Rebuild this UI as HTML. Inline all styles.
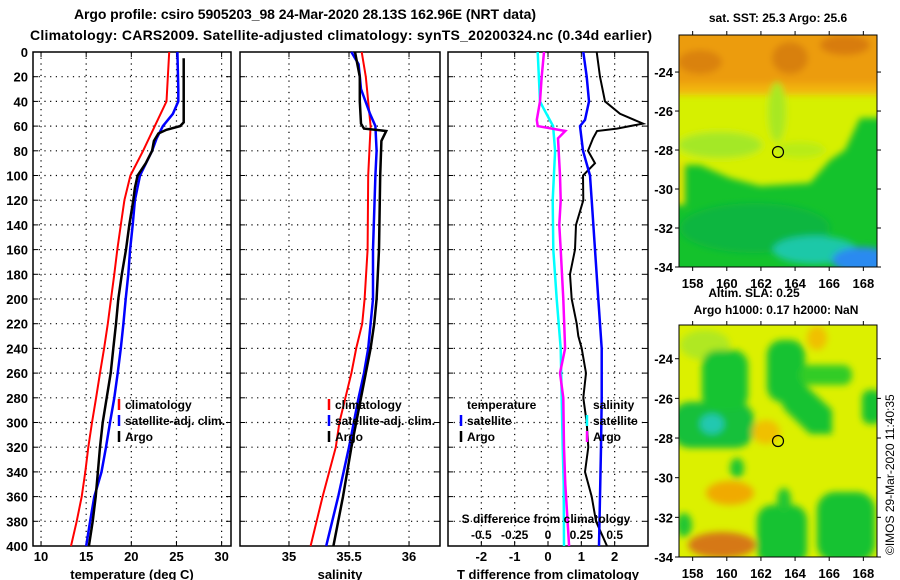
<!DOCTYPE html>
<html><head><meta charset="utf-8"><style>
html,body{margin:0;padding:0;background:#fff;}
svg{display:block;font-family:"Liberation Sans",Arial,sans-serif;font-weight:bold;}
</style></head><body>
<svg id="root" width="900" height="580" viewBox="0 0 900 580">
<defs>
<filter id="bl" x="-30%" y="-30%" width="160%" height="160%"><feGaussianBlur stdDeviation="3.5"/></filter>
<clipPath id="c1"><rect x="679" y="35" width="198" height="232"/></clipPath>
<clipPath id="c2"><rect x="679" y="325" width="198" height="232"/></clipPath>
</defs>
<text x="305" y="19" text-anchor="middle" font-size="14" textLength="462">Argo profile: csiro 5905203_98 24-Mar-2020 28.13S 162.96E (NRT data)</text>
<text x="341" y="40" text-anchor="middle" font-size="14" textLength="622">Climatology: CARS2009. Satellite-adjusted climatology: synTS_20200324.nc (0.34d earlier)</text>

<!-- SST map -->
<g>
<text x="778" y="22" text-anchor="middle" font-size="12">sat. SST: 25.3 Argo: 25.6</text>
<g clip-path="url(#c1)">
<rect x="679" y="35" width="198" height="232" fill="#14c22c"/>
<g filter="url(#bl)">
<rect x="660" y="20" width="240" height="80" fill="#ec9c0e"/>
<ellipse cx="700" cy="62" rx="22" ry="12" fill="#da820a"/>
<ellipse cx="790" cy="58" rx="18" ry="16" fill="#d8800a"/>
<ellipse cx="845" cy="45" rx="25" ry="10" fill="#d87c08"/>
<rect x="660" y="84" width="240" height="16" fill="#f2b40a"/>
<polygon points="660,95 900,95 900,118 860,118 845,150 830,160 810,183 760,186 730,178 700,165 685,165 660,165" fill="#d6f000"/>
<ellipse cx="720" cy="145" rx="42" ry="13" fill="#a4e828"/>
<ellipse cx="777" cy="112" rx="9" ry="30" fill="#a8e820"/>
<ellipse cx="800" cy="150" rx="25" ry="8" fill="#b8ec18"/>
<rect x="675" y="160" width="10" height="45" fill="#e8e400"/>
<ellipse cx="755" cy="228" rx="75" ry="25" fill="#0cb640"/>
<ellipse cx="815" cy="250" rx="42" ry="14" fill="#1cc8a8"/>
<ellipse cx="862" cy="260" rx="30" ry="13" fill="#2a8af0"/>
</g></g>
<rect x="679" y="35" width="198" height="232" fill="none" stroke="#000" stroke-width="1"/>
<circle cx="778" cy="152" r="5.5" fill="none" stroke="#000" stroke-width="1.2"/>
</g>

<!-- SLA map -->
<g>
<text x="754" y="297" text-anchor="middle" font-size="12">Altim. SLA: 0.25</text>
<text x="776" y="314" text-anchor="middle" font-size="12">Argo h1000: 0.17 h2000: NaN</text>
<g clip-path="url(#c2)">
<rect x="679" y="325" width="198" height="232" fill="#dcf000"/>
<g filter="url(#bl)">
<ellipse cx="705" cy="345" rx="25" ry="15" fill="#b0e820"/>
<rect x="672" y="402" width="82" height="46" rx="18" fill="#14c03a"/>
<rect x="702" y="350" width="46" height="60" rx="15" fill="#18c430"/>
<ellipse cx="712" cy="424" rx="12" ry="10" fill="#22c8b0"/>
<rect x="767" y="340" width="38" height="62" rx="15" fill="#14c230"/>
<polygon points="775,390 805,385 832,410 832,434 810,434 785,410" fill="#14c230"/>
<rect x="800" y="365" width="52" height="20" rx="9" fill="#30cc28"/>
<rect x="862" y="390" width="20" height="34" rx="8" fill="#14c230"/>
<ellipse cx="737" cy="468" rx="7" ry="10" fill="#1cc630"/>
<rect x="757" y="505" width="50" height="60" rx="15" fill="#14c230"/>
<ellipse cx="784" cy="500" rx="7" ry="12" fill="#20c630"/>
<rect x="817" y="492" width="58" height="70" rx="18" fill="#14c230"/>
<ellipse cx="684" cy="525" rx="8" ry="12" fill="#20c630"/>
<ellipse cx="730" cy="493" rx="24" ry="12" fill="#f0aa00"/>
<ellipse cx="722" cy="545" rx="34" ry="13" fill="#d67812"/>
<ellipse cx="766" cy="432" rx="14" ry="12" fill="#f0c000"/>
<ellipse cx="817" cy="338" rx="10" ry="12" fill="#f0c000"/>
</g></g>
<rect x="679" y="325" width="198" height="232" fill="none" stroke="#000" stroke-width="1"/>
<circle cx="778" cy="441" r="5.5" fill="none" stroke="#000" stroke-width="1.2"/>
</g>
<text transform="translate(894,555) rotate(-90)" font-size="12" font-weight="normal">©IMOS 29-Mar-2020 11:40:35</text>
<g id="dyn"></g>
</svg>
<script>
// depth grid
const depthTicks = [0,20,40,60,80,100,120,140,160,180,200,220,240,260,280,300,320,340,360,380,400];
// temperature panel
const tTicks = [10,15,20,25,30];
const tClimDepth = [0,40,60,80,100,120,140,160,180,200,220,240,260,280,300,320,340,360,380,400];
const tClimVal = [24.2,23.9,22.6,21.3,19.9,19.23,18.83,18.45,18.12,17.75,17.39,16.98,16.53,16.1,15.65,15.24,14.9,14.5,13.95,13.32];
const tSatDepth = [0,30,40,50,60,70,80,100,120,140,160,180,200,220,240,260,280,300,320,340,360,380,400];
const tSatVal = [25.1,25.2,25.2,24.6,23.5,22.8,22.3,20.96,20.4,20.15,19.86,19.67,19.38,19.12,18.83,18.49,18.12,17.64,17.2,16.7,15.9,15.43,15.0];
const tArgoDepth = [5,57,60,63,66,72,80,90,100,110,120,140,160,180,200,220,240,260,280,300,320,340,360,380,400];
const tArgoVal = [25.8,25.8,25.4,23.9,23.0,22.5,22.3,21.6,20.7,20.4,20.22,19.78,19.41,18.94,18.56,18.3,18.0,17.72,17.27,16.83,16.53,16.3,16.06,15.72,15.3];
// salinity panel
const sTicks = [35,35.5,36];
const sTickLabels = ["35","35.5","36"];
const sClimDepth = [0,20,60,100,160,200,220,240,260,280,300,320,360,400];
const sClimVal = [35.606,35.64,35.68,35.66,35.655,35.63,35.61,35.56,35.52,35.47,35.42,35.39,35.28,35.18];
const sSatDepth = [0,10,30,50,60,80,100,160,200,240,260,280,300,320,360,400];
const sSatVal = [35.52,35.58,35.6,35.675,35.72,35.73,35.72,35.70,35.70,35.66,35.625,35.58,35.54,35.50,35.41,35.31];
const sArgoDepth = [0,20,40,58,62,64,72,100,160,200,220,240,260,280,300,320,360,400];
const sArgoVal = [35.55,35.59,35.59,35.6,35.625,35.81,35.77,35.76,35.75,35.73,35.71,35.68,35.64,35.6,35.56,35.52,35.45,35.37];
// difference panel
const dTTicks = [-2,-1,0,1,2];
const dSTicks = ["-0.5","-0.25","0","0.25","0.5"];
const dSTickVals = [-0.5,-0.25,0,0.25,0.5];
const dTArgoDepth = [0,20,40,50,58,62,64,70,80,90,100,120,140,160,180,200,220,230,240,260,280,300,320,340,360,380,400];
const dTArgoVal = [1.46,1.56,1.71,2.16,2.85,2.07,1.47,1.35,1.2,1.41,1.05,1.06,0.84,0.81,0.66,0.71,0.86,0.91,1.01,1.14,1.06,1.16,1.21,1.11,1.31,1.44,1.77];
const dTSatDepth = [0,20,40,55,60,80,100,120,160,200,240,280,320,360,400];
const dTSatVal = [1.06,1.16,1.23,1.11,0.96,1.05,1.26,1.31,1.41,1.51,1.61,1.61,1.59,1.56,1.53];
const dSSatDepth = [0,40,45,60,80,120,160,200,240,280,320,350,400];
const dSSatVal = [-0.077,-0.06,-0.037,0.038,0.053,0.035,0.04,0.065,0.095,0.103,0.11,0.118,0.12];
const dSArgoDepth = [0,20,40,55,60,64,70,100,120,140,160,200,240,260,280,320,350,400];
const dSArgoVal = [-0.03,-0.047,-0.06,-0.084,-0.077,0.13,0.075,0.09,0.095,0.085,0.095,0.115,0.128,0.09,0.115,0.12,0.13,0.158];
// maps
const latTicks = [-24,-26,-28,-30,-32,-34];
const lonTicks = [158,160,162,164,166,168];

const NS = "http://www.w3.org/2000/svg";
const dyn = document.getElementById('dyn');
function mk(tag, attrs, parent, txt){
  const e = document.createElementNS(NS, tag);
  for (const k in attrs) e.setAttribute(k, attrs[k]);
  if (txt !== undefined) e.textContent = txt;
  (parent||dyn).appendChild(e);
  return e;
}
const Y0 = 52, Y1 = 546;
function yD(d){ return Y0 + (d/400)*(Y1-Y0); }

function panel(name, x0, x1, vmin, vmax, ticks, tickLabels, title){
  const g = mk('g', {});
  
  
  const xs = v => x0 + (v - vmin)/(vmax - vmin)*(x1 - x0);
  depthTicks.forEach(d => {
    const y = yD(d);
    if (d>0 && d<400) {
      const l = mk('line', {x1:x0, x2:x1, y1:y, y2:y, stroke:'#000', 'stroke-width':1.2, 'stroke-dasharray':'1.2,4.5'}, g);
      
      
    }
    mk('line', {x1:x0, x2:x0+5, y1:y, y2:y, stroke:'#000'}, g);
    mk('line', {x1:x1-5, x2:x1, y1:y, y2:y, stroke:'#000'}, g);
  });
  ticks.forEach((t,i) => {
    const x = xs(t);
    const l = mk('line', {x1:x, x2:x, y1:Y0, y2:Y1, stroke:'#000', 'stroke-width':1.2, 'stroke-dasharray':'1.2,4.5'}, g);
    
    
    mk('line', {x1:x, x2:x, y1:Y1-5, y2:Y1, stroke:'#000'}, g);
    mk('line', {x1:x, x2:x, y1:Y0, y2:Y0+5, stroke:'#000'}, g);
    const tl = mk('text', {x:x, y:561, 'text-anchor':'middle', 'font-size':13}, g, tickLabels[i]);
    
    
  });
  const fr = mk('rect', {x:x0, y:Y0, width:x1-x0, height:Y1-Y0, fill:'none', stroke:'#000', 'stroke-width':1.5}, g);
  
  
  const at = mk('text', {x:(x0+x1)/2, y:579, 'text-anchor':'middle', 'font-size':13}, g, title);
  
  
  return {g, xs};
}
function series(p, name, xs, depths, vals, color, w){
  const pts = depths.map((d,i) => xs(vals[i]).toFixed(1)+','+yD(d).toFixed(1)).join(' ');
  const pl = mk('polyline', {points:pts, fill:'none', stroke:color, 'stroke-width':w, 'stroke-linejoin':'miter'}, p.g);
  
  
}
function legend(g, x, y, color, label){
  if (color) {
    const m = mk('line', {x1:x, x2:x, y1:y-10, y2:y+1, stroke:color, 'stroke-width':2.5}, g);
    
    
  }
  const t = mk('text', {x:x+6, y:y, 'font-size':12}, g, label);
  
  
}

// y axis labels
depthTicks.forEach(d => {
  const t = mk('text', {x:28, y:yD(d)+5, 'text-anchor':'end', 'font-size':13}, dyn, String(d));
  
  
});

const p1 = panel('temperature-panel', 33, 231, 9.11, 31.04, tTicks, tTicks.map(String), 'temperature (deg C)');
series(p1, 'temp-climatology-line', p1.xs, tClimDepth, tClimVal, '#ff0000', 2);
series(p1, 'temp-satellite-line', p1.xs, tSatDepth, tSatVal, '#0000ff', 2.5);
series(p1, 'temp-argo-line', p1.xs, tArgoDepth, tArgoVal, '#000000', 2.5);
legend(p1.g, 119, 409, '#ff0000', 'climatology');
legend(p1.g, 119, 425, '#0000ff', 'satellite-adj. clim.');
legend(p1.g, 119, 441, '#000000', 'Argo');

const p2 = panel('salinity-panel', 240, 440, 34.592, 36.258, sTicks, sTickLabels, 'salinity');
series(p2, 'sal-climatology-line', p2.xs, sClimDepth, sClimVal, '#ff0000', 2);
series(p2, 'sal-satellite-line', p2.xs, sSatDepth, sSatVal, '#0000ff', 2.5);
series(p2, 'sal-argo-line', p2.xs, sArgoDepth, sArgoVal, '#000000', 2.5);
legend(p2.g, 329, 409, '#ff0000', 'climatology');
legend(p2.g, 329, 425, '#0000ff', 'satellite-adj. clim.');
legend(p2.g, 329, 441, '#000000', 'Argo');

const p3 = panel('difference-panel', 448, 648, -3, 3, dTTicks, dTTicks.map(String), 'T difference from climatology');
const xS = v => 448 + (v + 0.75)/1.5*200;
series(p3, 'sdiff-satellite-line', xS, dSSatDepth, dSSatVal, '#00ffff', 2.5);
series(p3, 'sdiff-argo-line', xS, dSArgoDepth, dSArgoVal, '#ff00ff', 2.5);
series(p3, 'tdiff-argo-line', p3.xs, dTArgoDepth, dTArgoVal, '#000000', 2);
series(p3, 'tdiff-satellite-line', p3.xs, dTSatDepth, dTSatVal, '#0000ff', 2.5);
legend(p3.g, 461, 409, null, 'temperature');
legend(p3.g, 461, 425, '#0000ff', 'satellite');
legend(p3.g, 461, 441, '#000000', 'Argo');
legend(p3.g, 587, 409, null, 'salinity');
legend(p3.g, 587, 425, '#00ffff', 'satellite');
legend(p3.g, 587, 441, '#ff00ff', 'Argo');
const st = mk('text', {x:546, y:523, 'text-anchor':'middle', 'font-size':12}, p3.g, 'S difference from climatology');


dSTickVals.forEach((v,i) => {
  const t = mk('text', {x:xS(v), y:539, 'text-anchor':'middle', 'font-size':12}, p3.g, dSTicks[i]);
  
  
});

// map axes
function mapAxes(name, top, bottom, latTopVal, lonLabelY){
  const g = mk('g', {});
  
  
  const latY = lat => top + (latTopVal - lat)/(latTopVal + 34)*(bottom - top) ;
  const lonX = lon => 679 + (lon - 157.2)/11.6*198;
  latTicks.forEach(l => {
    const y = latY(l);
    mk('line', {x1:675, x2:679, y1:y, y2:y, stroke:'#000'}, g);
    mk('line', {x1:877, x2:881, y1:y, y2:y, stroke:'#000'}, g);
    const t = mk('text', {x:673, y:y+5, 'text-anchor':'end', 'font-size':13}, g, String(l));
    
    
  });
  lonTicks.forEach(l => {
    const x = lonX(l);
    mk('line', {x1:x, x2:x, y1:bottom, y2:bottom+4, stroke:'#000'}, g);
    mk('line', {x1:x, x2:x, y1:top-4, y2:top, stroke:'#000'}, g);
    const t = mk('text', {x:x, y:lonLabelY, 'text-anchor':'middle', 'font-size':13}, g, String(l));
    
    
  });
}
mapAxes('sst-map-axes', 35, 267, -22.1, 288);
mapAxes('sla-map-axes', 325, 557, -22.3, 578);
</script>
</body></html>
